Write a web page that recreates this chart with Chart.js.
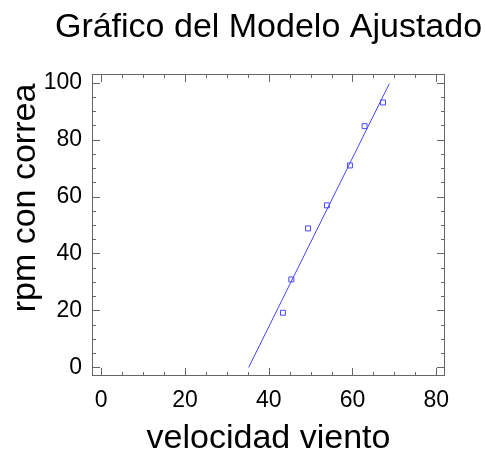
<!DOCTYPE html>
<html>
<head>
<meta charset="utf-8">
<script src="https://cdn.jsdelivr.net/npm/chart.js@4.4.1/dist/chart.umd.min.js"></script>
<style>
  html, body { margin: 0; padding: 0; background: #fff; }
  #wrap { width: 485px; height: 454px; }
</style>
</head>
<body>
<div id="wrap"><canvas id="fitChart" width="485" height="454"></canvas></div>
<script>
// observed points (velocidad viento, rpm con correa)
const windSpeed = [43.4, 45.4, 49.4, 53.9, 59.4, 62.9, 67.3];
const rpmBelt = [19.2, 30.9, 48.8, 56.9, 70.9, 84.7, 93.0];
// fitted line, ends
const fitX = [35.2, 68.8];
const fitY = [0, 99.6];
// axis ticks
const xTicks = [0, 20, 40, 60, 80];
const yTicks = [0, 20, 40, 60, 80, 100];
const minorStep = 5;

const blue = '#4646ff';
const frameColor = '#666666';
const fontFamily = '"Liberation Sans", Arial, sans-serif';

// frame + inward ticks on all four sides, chart title and the rotated y title
const framePlugin = {
    id: 'framePlugin',
    afterDraw(chart) {
        const ctx = chart.ctx;
        const a = chart.chartArea;
        const xs = chart.scales.x, ys = chart.scales.y;
        ctx.save();
        ctx.strokeStyle = frameColor;
        ctx.lineWidth = 1;
        ctx.strokeRect(a.left + 0.5, a.top + 0.5, a.right - a.left - 1, a.bottom - a.top - 1);
        ctx.beginPath();
        for (let v = xTicks[0]; v <= xTicks[xTicks.length - 1]; v += minorStep) {
            const len = xTicks.includes(v) ? 8 : 4;
            const px = Math.round(xs.getPixelForValue(v)) + 0.5;
            ctx.moveTo(px, a.bottom); ctx.lineTo(px, a.bottom - len);
            ctx.moveTo(px, a.top); ctx.lineTo(px, a.top + len);
        }
        for (let v = yTicks[0]; v <= yTicks[yTicks.length - 1]; v += minorStep) {
            const len = yTicks.includes(v) ? 8 : 4;
            const py = Math.round(ys.getPixelForValue(v)) + 0.5;
            ctx.moveTo(a.left, py); ctx.lineTo(a.left + len, py);
            ctx.moveTo(a.right, py); ctx.lineTo(a.right - len, py);
        }
        ctx.stroke();

        ctx.fillStyle = '#000';
        ctx.font = '34px ' + fontFamily;
        ctx.textAlign = 'center';
        ctx.textBaseline = 'alphabetic';
        // chart title, centred over the plot
        ctx.fillText('Gráfico del Modelo Ajustado', (a.left + a.right) / 2, 37);
        // y axis title
        ctx.translate(35, 198);
        ctx.rotate(-Math.PI / 2);
        ctx.fillText('rpm con correa', 0, 0);
        ctx.restore();
    }
};

new Chart(document.getElementById('fitChart').getContext('2d'), {
    type: 'scatter',
    data: {
        datasets: [
            {
                label: 'Modelo',
                data: fitX.map((x, i) => ({ x: x, y: fitY[i] })),
                type: 'line',
                borderColor: blue,
                borderWidth: 1,
                pointRadius: 0,
                fill: false,
                tension: 0
            },
            {
                label: 'Observados',
                data: windSpeed.map((x, i) => ({ x: x, y: rpmBelt[i] })),
                pointStyle: 'rect',
                pointRadius: 3.5,
                borderColor: blue,
                borderWidth: 1,
                backgroundColor: 'rgba(255,255,255,0)'
            }
        ]
    },
    options: {
        responsive: false,
        animation: false,
        devicePixelRatio: 1,
        layout: { padding: { left: 0, right: 40, top: 74, bottom: 0 } },
        plugins: {
            legend: { display: false },
            tooltip: { enabled: false },
            title: { display: false }
        },
        scales: {
            x: {
                type: 'linear',
                min: -2.2,
                max: 82.1,
                afterBuildTicks: s => { s.ticks = xTicks.map(v => ({ value: v })); },
                afterFit: s => { s.height = 78; },
                grid: { display: false, drawTicks: false },
                border: { display: false },
                ticks: { color: '#000', padding: 11, font: { family: fontFamily, size: 23 } },
                title: {
                    display: true,
                    text: 'velocidad viento',
                    color: '#000',
                    font: { family: fontFamily, size: 34, lineHeight: 1 },
                    padding: { top: 0, bottom: -2 }
                }
            },
            y: {
                type: 'linear',
                min: -3,
                max: 103,
                afterBuildTicks: s => { s.ticks = yTicks.map(v => ({ value: v })); },
                afterFit: s => { s.width = 92; },
                grid: { display: false, drawTicks: false },
                border: { display: false },
                ticks: { color: '#000', padding: 10, font: { family: fontFamily, size: 23 } }
            }
        }
    },
    plugins: [framePlugin]
});
</script>
</body>
</html>
